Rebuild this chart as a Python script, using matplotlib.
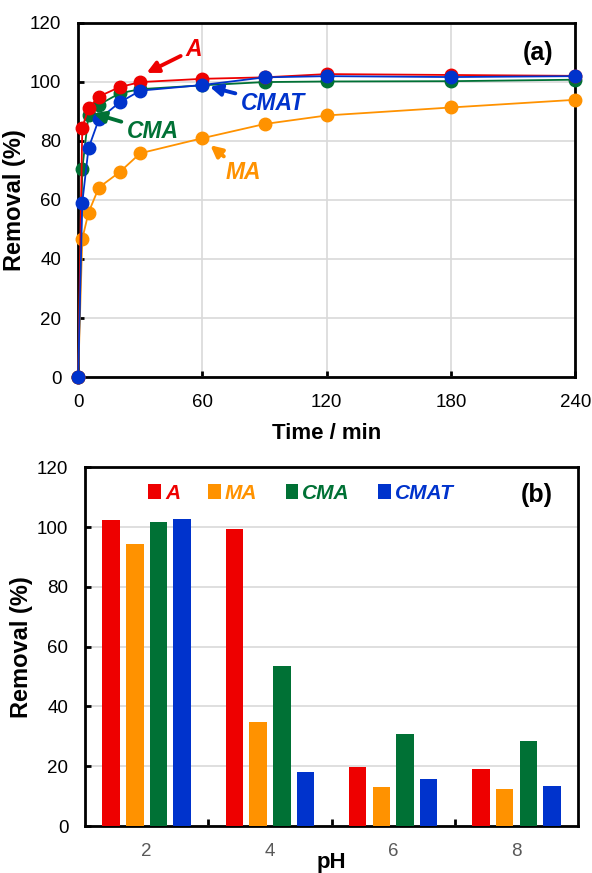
import numpy as np
import matplotlib
matplotlib.use('Agg')
import matplotlib.pyplot as plt

plt.rcParams['font.family'] = ['Liberation Sans', 'DejaVu Sans']

# colours
c_a = '#EE0000'
c_ma = '#FF9200'
c_cma = '#007135'
c_cmat = '#0033CC'

# panel (a) - removal vs time
time = [0, 2, 5, 10, 20, 30, 60, 90, 120, 180, 240]
rem_A = [0, 84.5, 91, 95, 98.2, 99.9, 101.0, 101.5, 102.6, 102.3, 102.0]
rem_MA = [0, 46.8, 55.7, 64.2, 69.4, 75.8, 80.9, 85.7, 88.6, 91.3, 93.9]
rem_CMA = [0, 70.5, 88.8, 92.2, 96.1, 97.5, 98.8, 99.9, 100.1, 100.2, 100.7]
rem_CMAT = [0, 59.1, 77.5, 87.3, 93.0, 97.0, 98.9, 101.5, 101.9, 101.6, 101.9]

# panel (b) - removal vs pH
ph_labels = ['2', '4', '6', '8']
bar_A = [102.3, 99.2, 19.7, 19.1]
bar_MA = [94.3, 34.8, 13.1, 12.5]
bar_CMA = [101.7, 53.4, 30.7, 28.3]
bar_CMAT = [102.6, 18.1, 15.7, 13.3]

fig = plt.figure(figsize=(5.92, 8.73), dpi=100)
ax1 = fig.add_axes([0.132, 0.568, 0.840, 0.406])
ax2 = fig.add_axes([0.1436, 0.0538, 0.833, 0.411])

grid_c = '#D9D9D9'
tick_fs = 13.5
lab_fs = 17

# ---------- (a) ----------
for y, c in [(rem_MA, c_ma), (rem_CMA, c_cma), (rem_A, c_a), (rem_CMAT, c_cmat)]:
    ax1.plot(time, y, color=c, lw=1.3, marker='o', ms=9, clip_on=False, zorder=3)

ax1.set_xlim(0, 240)
ax1.set_ylim(0, 120)
ax1.set_xticks([0, 60, 120, 180, 240])
ax1.set_yticks(np.arange(0, 121, 20))
ax1.grid(True, color=grid_c, lw=1.2)
ax1.set_axisbelow(True)
ax1.tick_params(direction='in', length=4, width=2, labelsize=tick_fs, pad=12,
                top=False, right=False)
for s in ax1.spines.values():
    s.set_linewidth(2)
ax1.set_ylabel('Removal (%)', fontsize=lab_fs, fontweight='bold', labelpad=3)
ax1.set_xlabel('Time / min', fontsize=16, fontweight='bold')
ax1.xaxis.set_label_coords(0.5, -0.13)
ax1.text(0.924, 0.915, '(a)', transform=ax1.transAxes, fontsize=18,
         fontweight='bold', ha='center', va='center')

arr = dict(arrowstyle='-|>', lw=2.8, mutation_scale=17)
notes = [('A', c_a, (56, 111), (33, 103)),
         ('CMAT', c_cmat, (94, 92.8), (63.5, 98.3)),
         ('CMA', c_cma, (36, 83.3), (7.4, 89.3)),
         ('MA', c_ma, (79.7, 69.3), (63.8, 78.5))]
for txt, c, xyt, xy in notes:
    ax1.annotate(txt, xy=xy, xytext=xyt, color=c, fontsize=16.5, fontweight='bold',
                 fontstyle='italic', ha='center', va='center',
                 arrowprops=dict(arr, color=c, shrinkA=2, shrinkB=0), zorder=5)

# ---------- (b) ----------
x = np.arange(len(ph_labels))
pitch = 0.192
bw = 0.142
series = [(bar_A, c_a, 'A'), (bar_MA, c_ma, 'MA'), (bar_CMA, c_cma, 'CMA'),
          (bar_CMAT, c_cmat, 'CMAT')]
for i, (vals, c, lab) in enumerate(series):
    ax2.bar(x + (i - 1.5) * pitch, vals, width=bw, color=c, label=lab, zorder=3)

ax2.set_xlim(-0.5, 3.5)
ax2.set_ylim(0, 120)
ax2.set_yticks(np.arange(0, 121, 20))
ax2.set_xticks(x)
ax2.set_xticklabels(ph_labels, color='#595959')
ax2.set_xticks([0.5, 1.5, 2.5], minor=True)
ax2.yaxis.grid(True, color=grid_c, lw=1.2)
ax2.set_axisbelow(True)
ax2.tick_params(axis='y', direction='in', length=4, width=2, labelsize=tick_fs, pad=12)
ax2.tick_params(axis='x', which='major', length=0, labelsize=tick_fs, pad=12)
ax2.tick_params(axis='x', which='minor', direction='in', length=5, width=2)
for s in ax2.spines.values():
    s.set_linewidth(2)
ax2.set_ylabel('Removal (%)', fontsize=lab_fs, fontweight='bold', labelpad=3)
ax2.set_xlabel('pH', fontsize=16, fontweight='bold')
ax2.xaxis.set_label_coords(0.5, -0.072)
ax2.text(0.917, 0.922, '(b)', transform=ax2.transAxes, fontsize=18,
         fontweight='bold', ha='center', va='center')

leg = ax2.legend(loc='center', bbox_to_anchor=(0.438, 0.928), ncol=4, frameon=False,
                 handlelength=0.6, handleheight=0.75, handletextpad=0.2,
                 columnspacing=1.35, prop=dict(size=15, weight='bold', style='italic'))
for t, (_, c, _) in zip(leg.get_texts(), series):
    t.set_color(c)

fig.savefig('out.png', dpi=100)
